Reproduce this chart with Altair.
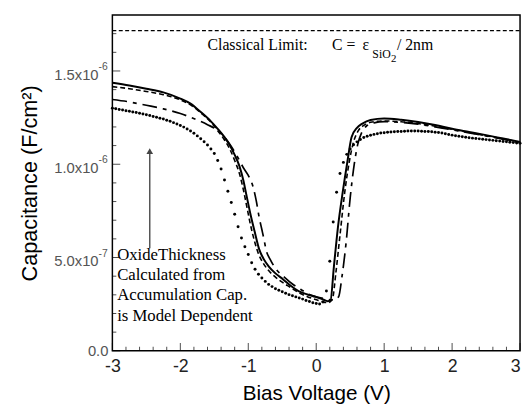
import altair as alt
import pandas as pd

# ---------------- data (capacitance in units of 1e-6 F/cm^2) ----------------
solid_x = [-3.0, -2.75, -2.5, -2.25, -2.0, -1.85, -1.7, -1.55, -1.45, -1.35, -1.27, -1.2, -1.13,
           -1.07, -1.03, -0.96, -0.9, -0.84, -0.77, -0.7, -0.6, -0.49, -0.38, -0.26, -0.13, -0.01,
           0.1, 0.17, 0.21, 0.26, 0.32, 0.39, 0.46, 0.52, 0.6, 0.68, 0.8, 1.0, 1.25, 1.5, 1.75,
           2.0, 2.25, 2.5, 2.75, 3.0]
solid_y = [1.437, 1.422, 1.405, 1.385, 1.352, 1.325, 1.28, 1.23, 1.19, 1.145, 1.10, 1.05, 0.99,
           0.91, 0.84, 0.72, 0.63, 0.545, 0.49, 0.453, 0.415, 0.384, 0.35, 0.32, 0.302, 0.289,
           0.275, 0.266, 0.27, 0.45, 0.663, 0.85, 1.016, 1.145, 1.195, 1.218, 1.237, 1.245, 1.238,
           1.226, 1.21, 1.19, 1.173, 1.156, 1.138, 1.12]

dash_x = [-3.0, -2.75, -2.5, -2.25, -2.0, -1.85, -1.7, -1.55, -1.45, -1.35, -1.27, -1.2, -1.13,
          -1.07, -1.02, -0.97, -0.91, -0.85, -0.78, -0.7, -0.6, -0.49, -0.38, -0.26, -0.13, -0.01,
          0.1, 0.18, 0.24, 0.29, 0.35, 0.42, 0.49, 0.55, 0.62, 0.7, 0.8, 1.0, 1.25, 1.5, 1.75,
          2.0, 2.25, 2.5, 2.75, 3.0]
dash_y = [1.416, 1.405, 1.39, 1.373, 1.345, 1.318, 1.276, 1.225, 1.18, 1.13, 1.08, 1.02, 0.95,
          0.86, 0.77, 0.68, 0.59, 0.52, 0.47, 0.43, 0.395, 0.365, 0.34, 0.312, 0.29, 0.275,
          0.262, 0.258, 0.28, 0.42, 0.62, 0.85, 1.02, 1.12, 1.18, 1.208, 1.225, 1.232, 1.228,
          1.218, 1.204, 1.187, 1.17, 1.153, 1.136, 1.118]

dashdot_x = [-3.0, -2.75, -2.5, -2.25, -2.0, -1.75, -1.6, -1.46, -1.35, -1.25, -1.16, -1.07, -1.0,
             -0.93, -0.88, -0.84, -0.8, -0.77, -0.74, -0.67, -0.59, -0.47, -0.35, -0.23, -0.12,
             0.0, 0.13, 0.25, 0.33, 0.38, 0.44, 0.5, 0.56, 0.61, 0.67, 0.74, 0.85, 1.0, 1.25,
             1.5, 1.75, 2.0, 2.25, 2.5, 2.75, 3.0]
dashdot_y = [1.347, 1.334, 1.316, 1.297, 1.272, 1.237, 1.212, 1.184, 1.145, 1.095, 1.04, 0.98,
             0.94, 0.88, 0.80, 0.716, 0.65, 0.60, 0.545, 0.485, 0.437, 0.395, 0.358, 0.33, 0.305,
             0.29, 0.279, 0.272, 0.29, 0.40, 0.58, 0.82, 1.0, 1.105, 1.17, 1.205, 1.222, 1.228,
             1.224, 1.215, 1.2, 1.185, 1.168, 1.152, 1.134, 1.115]

dot_x = [-3.00, -2.95, -2.90, -2.85, -2.80, -2.75, -2.70, -2.65, -2.60, -2.55, -2.50, -2.45,
         -2.40, -2.35, -2.30, -2.25, -2.20, -2.15, -2.10, -2.05, -2.00, -1.95, -1.90, -1.85,
         -1.80, -1.75, -1.70, -1.65, -1.60, -1.55, -1.50, -1.45, -1.40, -1.35, -1.30, -1.25,
         -1.20, -1.15, -1.10, -1.05, -1.00, -0.95, -0.90, -0.85, -0.80, -0.75, -0.70, -0.65,
         -0.60, -0.55, -0.50, -0.45, -0.40, -0.35, -0.30, -0.25, -0.20, -0.15, -0.10, -0.05,
         0.00, 0.05, 0.10, 0.15, 0.20, 0.25, 0.30, 0.35, 0.40, 0.45, 0.50, 0.55,
         0.60, 0.65, 0.70, 0.75, 0.80, 0.85, 0.90, 0.95, 1.00, 1.05, 1.10, 1.15,
         1.20, 1.25, 1.30, 1.35, 1.40, 1.45, 1.50, 1.55, 1.60, 1.65, 1.70, 1.75,
         1.80, 1.85, 1.90, 1.95, 2.00, 2.05, 2.10, 2.15, 2.20, 2.25, 2.30, 2.35,
         2.40, 2.45, 2.50, 2.55, 2.60, 2.65, 2.70, 2.75, 2.80, 2.85, 2.90, 2.95, 3.00]
dot_y = [1.300, 1.297, 1.294, 1.291, 1.287, 1.284, 1.280, 1.277, 1.273, 1.269, 1.265, 1.261,
         1.256, 1.252, 1.247, 1.242, 1.236, 1.230, 1.223, 1.216, 1.208, 1.199, 1.189, 1.178,
         1.166, 1.152, 1.137, 1.121, 1.103, 1.082, 1.058, 1.020, 0.975, 0.915, 0.855, 0.795,
         0.732, 0.665, 0.605, 0.558, 0.516, 0.472, 0.437, 0.410, 0.390, 0.372, 0.356, 0.344,
         0.333, 0.324, 0.316, 0.308, 0.301, 0.295, 0.289, 0.283, 0.277, 0.270, 0.264, 0.258,
         0.253, 0.251, 0.262, 0.320, 0.480, 0.690, 0.850, 0.950, 1.010, 1.053, 1.082, 1.104,
         1.120, 1.133, 1.143, 1.150, 1.155, 1.160, 1.164, 1.167, 1.169, 1.171, 1.173, 1.174,
         1.175, 1.176, 1.177, 1.178, 1.178, 1.178, 1.178, 1.177, 1.176, 1.175, 1.174, 1.172,
         1.170, 1.167, 1.163, 1.159, 1.156, 1.153, 1.150, 1.147, 1.145, 1.142, 1.140, 1.138,
         1.136, 1.134, 1.132, 1.130, 1.128, 1.126, 1.124, 1.122, 1.120, 1.118, 1.116, 1.114, 1.112]

classical_limit = 1.716
x_range = [-3, 3]
x_ticks = [-3, -2, -1, 0, 1, 2, 3]
x_minor = [round(-3 + 0.2 * i, 1) for i in range(31) if i % 5 != 0]
y_ticks = [0, 0.5, 1.0, 1.5]
y_minor = [round(0.1 * i, 1) for i in range(1, 18) if i % 5 != 0]
y_lab_vals = [0.5, 1.0, 1.5]
y_lab_text = ["5.0x10", "1.0x10", "1.5x10"]
y_sup_text = ["-7", "-6", "-6"]
y_zero_text = "0.0"
note_lines = ["OxideThickness", "Calculated from", "Accumulation Cap.", "is Model Dependent"]
arrow_x = -2.45
arrow_y = [0.55, 1.07]

# ---------------- chart ----------------
W, H = 414, 341
SANS = "Liberation Sans"
SERIF = "Liberation Serif"

xs = alt.Scale(domain=[-3, 3], nice=False, zero=False)
ys = alt.Scale(domain=[0, 1.8], nice=False, zero=False)

x_axis = alt.Axis(values=x_ticks, labelExpr="datum.value + ''", title="Bias Voltage (V)",
                  grid=False, ticks=False, domain=False, labelFontSize=18, labelFont=SANS,
                  labelColor="#222", labelPadding=7, labelFlush=False, labelOverlap=False,
                  labelAlign=alt.condition("datum.value == 3", alt.value("right"), alt.value("center")),
                  titleFontSize=21, titleFont=SANS, titleFontWeight="normal", titleColor="black",
                  titlePadding=7)
y_axis = alt.Axis(values=y_ticks, labels=False,
                  title="Capacitance (F/cm²)", grid=False, ticks=False, domain=False,
                  titleFontSize=22, titleFont=SANS, titleFontWeight="normal", titleColor="black",
                  titlePadding=72)


def X(field=None, datum=None):
    if datum is not None:
        return alt.X(datum=datum, type="quantitative", scale=xs, axis=x_axis)
    return alt.X(field, type="quantitative", scale=xs, axis=x_axis)


def Y(field=None, datum=None):
    if datum is not None:
        return alt.Y(datum=datum, type="quantitative", scale=ys, axis=y_axis)
    return alt.Y(field, type="quantitative", scale=ys, axis=y_axis)


def line(xv, yv, dash, width):
    df = pd.DataFrame({"x": xv, "y": yv})
    kw = dict(color="black", strokeWidth=width, interpolate="monotone")
    if dash:
        kw["strokeDash"] = dash
    return alt.Chart(df).mark_line(**kw).encode(x=X("x"), y=Y("y"))


solid = line(solid_x, solid_y, None, 2.0)
dashed = line(dash_x, dash_y, [5, 3], 1.6)
dashdot = line(dashdot_x, dashdot_y, [15, 6, 4, 6], 1.7)
dots = alt.Chart(pd.DataFrame({"x": dot_x, "y": dot_y})).mark_circle(
    color="black", size=9, opacity=1).encode(x=X("x"), y=Y("y"))

limit = alt.Chart(pd.DataFrame({"x": x_range, "y": [classical_limit] * 2})).mark_line(
    color="black", strokeWidth=1.3, strokeDash=[4, 2.5]).encode(x=X("x"), y=Y("y"))

# ticks pointing inward
xt_major = alt.Chart(pd.DataFrame({"x": x_ticks})).mark_tick(
    orient="vertical", size=8, thickness=1, yOffset=-4, color="black").encode(x=X("x"), y=Y(datum=0))
xt_minor = alt.Chart(pd.DataFrame({"x": x_minor})).mark_tick(
    orient="vertical", size=4, thickness=1, yOffset=-2, color="black").encode(x=X("x"), y=Y(datum=0))
yt_major = alt.Chart(pd.DataFrame({"y": y_ticks})).mark_tick(
    orient="horizontal", size=8, thickness=1, xOffset=4, color="black").encode(y=Y("y"), x=X(datum=-3))
yt_minor = alt.Chart(pd.DataFrame({"y": y_minor})).mark_tick(
    orient="horizontal", size=4, thickness=1, xOffset=2, color="black").encode(y=Y("y"), x=X(datum=-3))

# y tick labels with superscript exponents
ylab_df = pd.DataFrame({"y": y_lab_vals, "t": y_lab_text, "s": y_sup_text})
ylab = alt.Chart(ylab_df).mark_text(
    align="right", baseline="middle", dx=-14, dy=4, fontSize=15, font=SANS, color="#555").encode(
    y=Y("y"), x=X(datum=-3), text="t:N")
ysup = alt.Chart(ylab_df).mark_text(
    align="left", baseline="middle", dx=-14, dy=-4, fontSize=10.5, font=SANS, color="#555").encode(
    y=Y("y"), x=X(datum=-3), text="s:N")
yzero = alt.Chart(pd.DataFrame({"y": [0]})).mark_text(
    align="right", baseline="middle", dx=-4, dy=0, fontSize=15, font=SANS, color="#555").encode(
    y=Y("y"), x=X(datum=-3), text=alt.value(y_zero_text))

# arrow
arrow_line = alt.Chart(pd.DataFrame({"x": [arrow_x], "y": [arrow_y[0]], "y2": [arrow_y[1]]})).mark_rule(
    color="#555", strokeWidth=1.5).encode(x=X("x"), y=Y("y"), y2="y2:Q")
arrow_head = alt.Chart(pd.DataFrame({"x": [arrow_x], "y": [arrow_y[1]]})).mark_point(
    shape="triangle-up", filled=True, color="#444", size=45, opacity=1).encode(x=X("x"), y=Y("y"))

note = alt.Chart(pd.DataFrame({"x": [-2.93]})).mark_text(
    align="left", baseline="top", font=SERIF, fontSize=17, lineHeight=20.5, color="black").encode(
    x=X("x"), y=Y(datum=0.555), text=alt.value(note_lines))


def txt(s, x, y, size):
    return alt.Chart(pd.DataFrame({"x": [x]})).mark_text(
        align="left", baseline="middle", font=SERIF, fontSize=size, color="black").encode(
        x=X("x"), y=Y(datum=y), text=alt.value(s))


t1 = txt("Classical Limit:", -1.60, 1.637, 16)
t2 = txt("C =", 0.232, 1.637, 16)
t3 = txt("ε", 0.681, 1.637, 16)
t4 = txt("SiO", 0.826, 1.589, 12)
t5 = txt("2", 1.101, 1.563, 11)
t6 = txt("/ 2nm", 1.188, 1.637, 16)

chart = alt.layer(
    limit, dots, dashdot, dashed, solid,
    xt_major, xt_minor, yt_major, yt_minor, ylab, ysup, yzero,
    arrow_line, arrow_head, note, t1, t2, t3, t4, t5, t6,
).properties(
    width=W, height=H,
    autosize=alt.AutoSizeParams(type="none"),
    padding={"left": 106, "top": 4, "right": 3, "bottom": 56},
).configure_view(stroke="black", strokeWidth=1.5)

chart.save("out.html", embed_options={"renderer": "svg", "actions": False})
